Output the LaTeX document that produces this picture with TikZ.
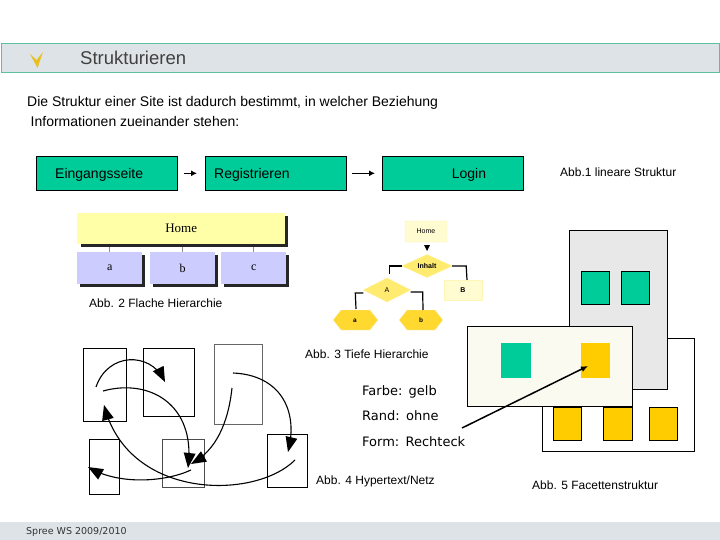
\documentclass[tikz,border=0pt]{standalone}
\usepackage{fontspec}
\setmainfont{Liberation Sans}
\newfontfamily\dvs{DejaVu Sans}
\newfontfamily\lser{Liberation Serif}
\usetikzlibrary{arrows.meta,shapes.geometric,calc}
\definecolor{barfill}{HTML}{DEE3E7}
\definecolor{barline}{HTML}{5CBFA0}
\definecolor{mint}{HTML}{00CC99}
\definecolor{goldy}{HTML}{FFCC00}
\definecolor{paleyel}{HTML}{FFFFA8}
\definecolor{lav}{HTML}{CCCCFF}
\definecolor{lightyel}{HTML}{FFFCD2}
\definecolor{diayel}{HTML}{FFEB70}
\definecolor{hexyel}{HTML}{FFD830}
\definecolor{ivory}{HTML}{FAFAF0}
\definecolor{greybox}{HTML}{E8E8E8}
\tikzset{
  txt/.style={anchor=base west, inner sep=0pt, font=\fontsize{14}{16}\selectfont},
  small/.style={anchor=base west, inner sep=0pt, font=\fontsize{12}{14}\selectfont},
  linbox/.style={draw=black, fill=mint, line width=0.6pt, minimum width=141pt, minimum height=34pt, inner sep=0pt},
  hyp/.style={draw=black, line width=0.7pt},
  harrow/.style={line width=1.1pt, shorten >=3pt},
  facet/.style={font=\dvs\fontsize{13}{15}\selectfont, anchor=base west, inner sep=0pt},
  hexlabel/.style={font=\fontsize{6.5}{8}\selectfont\bfseries, inner sep=0pt}
}
\newcommand\myhead[2]{%
  \coordinate (hbase) at ($(#1)!15pt!(#2)$);
  \fill[black] (#1) -- ($(hbase)!6pt!90:(#1)$) -- ($(hbase)!6pt!-90:(#1)$) -- cycle;}
\begin{document}
\begin{tikzpicture}[x=1pt,y=-1pt]
\useasboundingbox (0,0) rectangle (720,540);
% title bar
\node[draw=barline, fill=barfill, line width=1pt, minimum width=718pt, minimum height=29pt, inner sep=0pt, anchor=north west] (bar) at (1,43) {};
\fill[color={rgb,255:red,232;green,192;blue,32}] (30,54) -- (36.5,60) -- (43,52) -- (37.5,68) -- cycle;
\node[anchor=base west, inner sep=0pt, font=\fontsize{18.5}{20}\selectfont, text=black!75] (title) at (80,64.5) {Strukturieren};
% body
\node[txt] (l1) at (27,107) {Die Struktur einer Site ist dadurch bestimmt, in welcher Beziehung};
\node[txt] (l2) at (30.5,127) {Informationen zueinander stehen:};
% linear structure
\node[linbox, anchor=north west] (e1) at (36,156) {};
\node[linbox, anchor=north west] (e2) at (205,156) {};
\node[linbox, anchor=north west] (e3) at (382,156) {};
\node[txt] (t1) at (55,179) {Eingangsseite};
\node[txt] (t2) at (214,179) {Registrieren};
\node[txt, anchor=base] (t3) at (469,179) {Login};
\draw[line width=1.2pt, -{Latex[length=6pt,width=6pt]}, shorten <=6pt, shorten >=8pt] (e1) -- (e2);
\draw[line width=1.2pt, -{Latex[length=6pt,width=6pt]}, shorten <=5pt, shorten >=7pt] (e2) -- (e3);
\node[small] (abb1) at (560,177) {Abb.1 lineare Struktur};
% flat hierarchy
\fill[black!85] (81,216) rectangle (288,247);
\node[fill=paleyel, minimum width=208pt, minimum height=31pt, inner sep=0pt, anchor=north west, font=\lser\fontsize{13}{15}\selectfont] (fh) at (77,213) {Home};
\foreach \x/\n/\l in {77/fa/a,150/fb/b,221/fc/c}{
  \fill[black!85] (\x+3,255) rectangle (\x+68,287);
  \node[fill=lav, minimum width=65pt, minimum height=32pt, inner sep=0pt, anchor=north west, font=\lser\fontsize{12}{14}\selectfont] (\n) at (\x,252) {\l};
}
\foreach \n in {fa,fb,fc}{ \draw[black!45, line width=0.6pt] (fh.south -| \n.north) ++(0,3) -- (\n.north); }
\node[small] (abb2) at (89,307) {Abb. 2 Flache Hierarchie};
% deep hierarchy
\node[fill=lightyel, draw=diayel!60, rounded corners=1pt, minimum width=42pt, minimum height=21pt, inner sep=0pt, font=\fontsize{7}{8}\selectfont] (dh) at (426,231.5) {Home};
\node[diamond, fill=diayel, draw=diayel!80, minimum width=50pt, minimum height=23pt, inner sep=0pt, aspect=2.2, font=\fontsize{7}{8}\selectfont\bfseries] (inh) at (427,266) {Inhalt};
\fill[black] (424,245) -- (430,245) -- (427,251) -- cycle;
\node[diamond, fill=diayel, draw=diayel!80, minimum width=47pt, minimum height=24pt, inner sep=0pt, aspect=2, font=\fontsize{7}{8}\selectfont] (da) at (387,290) {A};
\node[fill=lightyel, draw=diayel!50, minimum width=38pt, minimum height=20pt, inner sep=0pt, font=\fontsize{7}{8}\selectfont\bfseries] (db) at (463,290) {B};
\filldraw[fill=hexyel, draw=hexyel!90!black!20] (333,320) -- (341,310) -- (370,310) -- (378,320) -- (370,330) -- (341,330) -- cycle;
\filldraw[fill=hexyel, draw=hexyel!90!black!20] (399,320) -- (407,310) -- (435,310) -- (443,320) -- (435,330) -- (407,330) -- cycle;
\node[hexlabel] (ha) at (355,320.5) {a};
\node[hexlabel] (hb) at (421,320.5) {b};
\draw[line width=1.2pt] (inh.west) -- ++(-12,0) -- ++(0,8);
\draw[line width=1.2pt] (inh.east) -- ++(14,0) -- (db.north -| 467,0);
\draw[line width=1.2pt] (da.west) ++(0,3) -- ++(-8,0) -- (356,309);
\draw[line width=1.2pt] (da.east) ++(0,2) -- ++(12,0) -- (423,310);
\node[small] (abb3) at (305,358) {Abb. 3 Tiefe Hierarchie};
% hypertext
\node[hyp, minimum width=43pt, minimum height=73pt, inner sep=0pt, anchor=north west] (h1) at (83,348) {};
\node[hyp, minimum width=51pt, minimum height=68pt, inner sep=0pt, anchor=north west] (h2) at (143,348) {};
\node[hyp, draw=black!60, minimum width=48pt, minimum height=80pt, inner sep=0pt, anchor=north west] (h3) at (214,344) {};
\node[hyp, minimum width=30pt, minimum height=55pt, inner sep=0pt, anchor=north west] (h4) at (89,439) {};
\node[hyp, draw=black!70, minimum width=42pt, minimum height=48pt, inner sep=0pt, anchor=north west] (h5) at (162,439) {};
\node[hyp, line width=1pt, minimum width=40pt, minimum height=53pt, inner sep=0pt, anchor=north west] (h6) at (267,434) {};
\coordinate (p1a) at (96,387);
\coordinate (p2a) at (165,382);
\coordinate (p1b) at (103,391);
\coordinate (p5a) at (188,468);
\coordinate (p3a) at (232,388);
\coordinate (p5b) at (191,464);
\coordinate (p3b) at (233,373);
\coordinate (p6a) at (288,452);
\coordinate (p6b) at (295,460);
\coordinate (p1c) at (104,405);
\coordinate (p5c) at (191,470);
\coordinate (p4a) at (88,467);
\coordinate (c1) at (150,352);
\coordinate (c2) at (195,405);
\coordinate (c3) at (215,450);
\coordinate (c4) at (298,410);
\coordinate (c5) at (130,500);
\coordinate (c6) at (120,485);
\draw[harrow] (p1a) .. controls (108,352) and (c1) .. (p2a);
\draw[harrow] (p1b) .. controls (150,378) and (c2) .. (p5a);
\draw[harrow] (p3a) .. controls (228,425) and (c3) .. (p5b);
\draw[harrow] (p3b) .. controls (280,375) and (c4) .. (p6a);
\draw[harrow] (p6b) .. controls (255,500) and (c5) .. (p1c);
\draw[harrow] (p5c) .. controls (165,482) and (c6) .. (p4a);
\myhead{p2a}{c1}
\myhead{p5a}{c2}
\myhead{p5b}{c3}
\myhead{p6a}{c4}
\myhead{p1c}{c5}
\myhead{p4a}{c6}
\node[small] (abb4) at (316,484) {Abb. 4 Hypertext/Netz};
% facet structure
\node[draw=black, fill=white, line width=0.7pt, minimum width=152pt, minimum height=113pt, inner sep=0pt, anchor=north west] (fw) at (542,338) {};
\node[draw=black, fill=greybox, line width=0.7pt, minimum width=98pt, minimum height=159pt, inner sep=0pt, anchor=north west] (fg) at (569,230) {};
\node[draw=black, fill=mint, minimum width=28pt, minimum height=33pt, inner sep=0pt, anchor=north west] (g1) at (581,271) {};
\node[draw=black, fill=mint, minimum width=28pt, minimum height=33pt, inner sep=0pt, anchor=north west] (g2) at (621,271) {};
\node[draw=black, fill=goldy, minimum width=28pt, minimum height=33pt, inner sep=0pt, anchor=north west] (y1) at (553,407) {};
\node[draw=black, fill=goldy, minimum width=29pt, minimum height=33pt, inner sep=0pt, anchor=north west] (y2) at (603,407) {};
\node[draw=black, fill=goldy, minimum width=28pt, minimum height=33pt, inner sep=0pt, anchor=north west] (y3) at (649,407) {};
\node[draw=black, fill=ivory, line width=0.7pt, minimum width=165pt, minimum height=80pt, inner sep=0pt, anchor=north west] (fc) at (467,326) {};
\node[fill=mint, minimum width=30pt, minimum height=35pt, inner sep=0pt, anchor=north west] (cg) at (501,343) {};
\node[fill=goldy, minimum width=29pt, minimum height=35pt, inner sep=0pt, anchor=north west] (cy) at (581,343) {};
\node[facet] (f1) at (362,395) {Farbe:\ \,gelb};
\node[facet] (f2) at (362,420) {Rand:\ \,ohne};
\node[facet] (f3) at (362,446) {Form:\ \,Rechteck};
\coordinate (fs) at (462,428);
\coordinate (ft) at (588,366);
\draw[line width=1.5pt, -{Latex[length=7pt,width=6pt]}] (fs) -- (ft);
\node[small] (abb5) at (532,489) {Abb. 5 Facettenstruktur};
% footer
\fill[barfill] (0,522) rectangle (720,540);
\node[anchor=base west, inner sep=0pt, font=\dvs\fontsize{9.5}{11}\selectfont, text=black!80] (foot) at (26,534) {Spree WS 2009/2010};
\end{tikzpicture}
\end{document}
